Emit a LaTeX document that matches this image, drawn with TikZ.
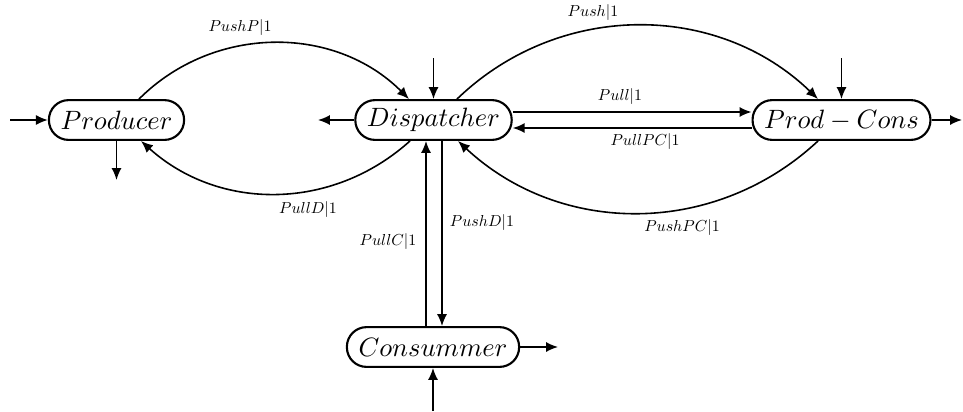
\documentclass[tikz,border=0pt]{standalone}
\usetikzlibrary{calc,arrows.meta}
\newcommand\edgelab[1]{\scalebox{0.6}{$#1$}}
\begin{document}
\begin{tikzpicture}[x=0.377pt,y=-0.377pt,
  state/.style={draw, line width=0.8pt, rounded corners=7.4pt, minimum height=15pt,
    inner xsep=4.4pt, inner ysep=0pt, font=\normalsize},
  conn/.style={line width=0.6pt, -{Latex[length=4.5pt,width=3.8pt]}},
  lab/.style={inner sep=0pt}]
\useasboundingbox (0,0) rectangle (963,411);

\node[state] (P)  at (116.5,120) {$Producer$};
\node[state] (D)  at (433.5,120) {$Dispatcher$};
\node[state] (PC) at (841.5,120) {$Prod-Cons$};
\node[state] (C)  at (433,347)   {$Consummer$};

% free ends
\coordinate (pin)  at (10,120);
\coordinate (pout) at (116.5,180);
\coordinate (dout) at (318,120);
\coordinate (din)  at (433.5,58);
\coordinate (pcin) at (841.5,58);
\coordinate (pcout) at (962,120);
\coordinate (cout) at (558,347);
\coordinate (cin)  at (433,411);

\draw[conn] (pin) -- (P.west);
\draw[conn] (P.south) -- (pout);
\draw[conn] (D.west) -- (dout);
\draw[conn] (din) -- (D.north);
\draw[conn] (pcin) -- (PC.north);
\draw[conn] (PC.east) -- (pcout);
\draw[conn] (C.east) -- (cout);
\draw[conn] (cin) -- (C.south);

% curved transitions
\draw[conn] ($(P.north)+(22.5,0)$) to[out=45,in=135] ($(D.north)+(-24.5,0)$);
\draw[conn] ($(D.south)+(-23.5,0)$) to[out=-138,in=-42] ($(P.south)+(24.5,0)$);
\draw[conn] ($(D.north)+(23.5,0)$) to[out=44,in=136] ($(PC.north)+(-23.5,0)$);
\draw[conn] ($(PC.south)+(-23.5,0)$) to[out=-137,in=-43] ($(D.south)+(24.5,0)$);

% straight transitions
\draw[conn] ($(D.east)+(0,-8)$) -- ($(PC.west)+(0,-8)$);
\draw[conn] ($(PC.west)+(0,8)$) -- ($(D.east)+(0,8)$);
\draw[conn] ($(C.north)+(-7,0)$) -- ($(D.south)+(-7.5,0)$);
\draw[conn] ($(D.south)+(8.5,0)$) -- ($(C.north)+(9,0)$);

% labels
\node[lab] (l1) at (240,28)  {\edgelab{PushP|1}};
\node[lab] (l2) at (308,210) {\edgelab{PullD|1}};
\node[lab] (l3) at (593,13)  {\edgelab{Push|1}};
\node[lab] (l4) at (682,228) {\edgelab{PushPC|1}};
\node[lab] (l5) at (620,97)  {\edgelab{Pull|1}};
\node[lab] (l6) at (645,142) {\edgelab{PullPC|1}};
\node[lab] (l7) at (388,242) {\edgelab{PullC|1}};
\node[lab] (l8) at (482,223) {\edgelab{PushD|1}};
\end{tikzpicture}
\end{document}
